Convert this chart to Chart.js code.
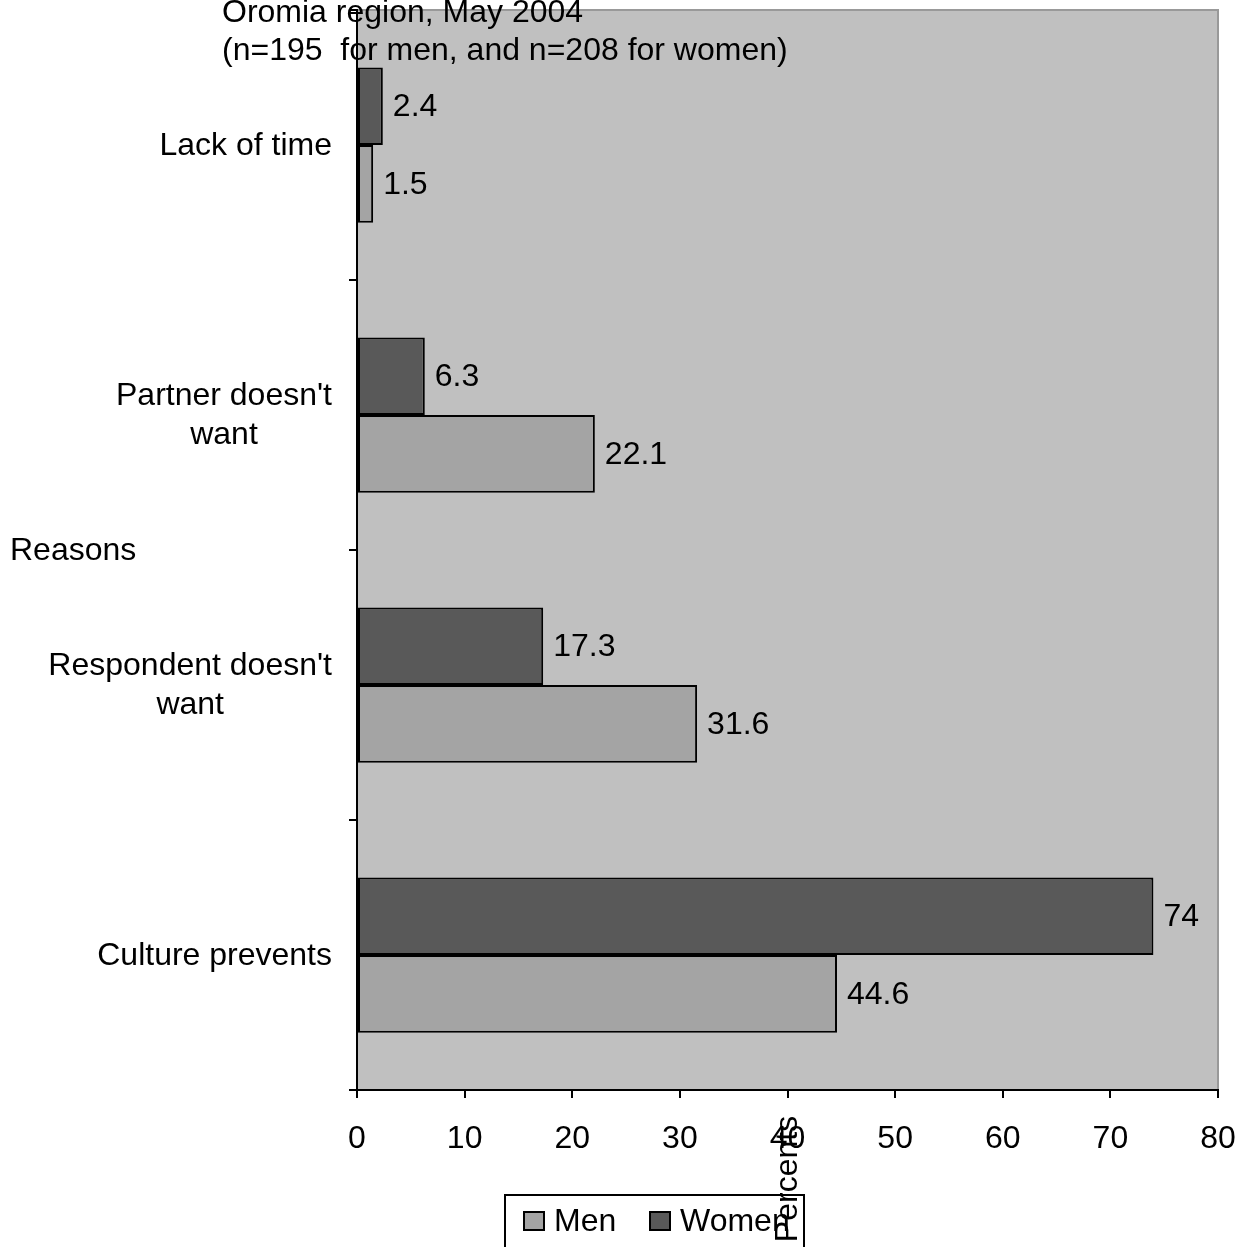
<!DOCTYPE html>
<html>
<head>
<meta charset="utf-8">
<script src="https://cdn.jsdelivr.net/npm/chart.js@4/dist/chart.umd.min.js"></script>
<style>
  html, body { margin: 0; padding: 0; background: #fff; }
  canvas { display: block; }
</style>
</head>
<body>
<canvas id="canvas" width="1254" height="1247"></canvas>
<script>
const reasons = [
  ["Lack of time"],
  ["Partner doesn't", "want"],
  ["Respondent doesn't", "want"],
  ["Culture prevents"],
];
const women = [2.4, 6.3, 17.3, 74];
const men = [1.5, 22.1, 31.6, 44.6];
const xTicks = [0, 10, 20, 30, 40, 50, 60, 70, 80];
const titleLines = ["Oromia region, May 2004", "(n=195  for men, and n=208 for women)"];

const FONT = "'Liberation Sans', Arial, sans-serif";
const SIZE = 32;

// background of plot area, labels, titles, legend
const decorPlugin = {
  id: "decor",
  beforeDraw(chart) {
    const { ctx, chartArea: a } = chart;
    ctx.save();
    ctx.fillStyle = "#c0c0c0";
    ctx.fillRect(a.left, a.top, a.right - a.left, a.bottom - a.top);
    ctx.strokeStyle = "#999999";
    ctx.lineWidth = 2;
    ctx.beginPath();
    ctx.moveTo(a.left, a.top);
    ctx.lineTo(a.right, a.top);
    ctx.lineTo(a.right, a.bottom);
    ctx.stroke();
    ctx.restore();
  },
  afterDraw(chart) {
    const { ctx, chartArea: a } = chart;
    const yScale = chart.scales.y;
    ctx.save();
    ctx.font = `${SIZE}px ${FONT}`;
    ctx.fillStyle = "#000";
    ctx.textBaseline = "middle";

    // category labels: block right aligned, lines centred on each other
    const lh = 39;
    reasons.forEach((lines, i) => {
      const cy = yScale.getPixelForValue(i) + 1;
      const w = Math.max(...lines.map((l) => ctx.measureText(l).width));
      const right = a.left - 25;
      const cx = right - w / 2;
      ctx.textAlign = "center";
      lines.forEach((l, j) => {
        ctx.fillText(l, cx, cy + (j - (lines.length - 1) / 2) * lh);
      });
    });

    // value labels
    ctx.textAlign = "left";
    chart.data.datasets.forEach((ds, di) => {
      const meta = chart.getDatasetMeta(di);
      meta.data.forEach((bar, i) => {
        ctx.fillText(String(ds.data[i]), bar.x + 10, bar.y + 1);
      });
    });

    // title
    titleLines.forEach((t, i) => ctx.fillText(t, 222, 13 + i * 38));

    // axis titles
    ctx.fillText("Reasons", 10, yScale.getPixelForValue(1.5) + 1);

    // legend
    ctx.fillStyle = "#fff";
    ctx.fillRect(505, 1195, 299, 60);
    ctx.strokeStyle = "#000";
    ctx.lineWidth = 2;
    ctx.strokeRect(505, 1195, 299, 60);
    const items = [...chart.data.datasets].reverse();
    const pos = [524, 650];
    items.forEach((ds, i) => {
      ctx.fillStyle = ds.backgroundColor;
      ctx.fillRect(pos[i], 1212, 20, 18);
      ctx.strokeRect(pos[i], 1212, 20, 18);
      ctx.fillStyle = "#000";
      ctx.textAlign = "left";
      ctx.fillText(ds.label, pos[i] + 30, 1222);
    });

    // "Percents" sits over the legend, as in the original
    ctx.save();
    ctx.translate(788, 1179);
    ctx.rotate(-Math.PI / 2);
    ctx.textAlign = "center";
    ctx.fillText("Percents", 0, 0);
    ctx.restore();
    ctx.restore();
  },
};

const chart = new Chart(document.getElementById("canvas").getContext("2d"), {
  type: "bar",
  data: {
    labels: reasons,
    datasets: [
      {
        label: "Women",
        data: women,
        backgroundColor: "#595959",
        borderColor: "#000",
        borderWidth: 2,
        borderSkipped: false,
      },
      {
        label: "Men",
        data: men,
        backgroundColor: "#a4a4a4",
        borderColor: "#000",
        borderWidth: 2,
        borderSkipped: false,
      },
    ],
  },
  options: {
    indexAxis: "y",
    responsive: false,
    animation: false,
    devicePixelRatio: 1,
    layout: { padding: { top: 10, right: 0, left: 0, bottom: 0 } },
    datasets: { bar: { categoryPercentage: 0.575, barPercentage: 1 } },
    plugins: { legend: { display: false }, tooltip: { enabled: false } },
    scales: {
      x: {
        min: 0,
        max: 80,
        afterBuildTicks: (s) => { s.ticks = xTicks.map((v) => ({ value: v })); },
        afterFit: (s) => { s.height = 157; s.paddingRight = 36; s.paddingLeft = 0; },
        grid: { drawOnChartArea: false, tickLength: 8, color: "#000", lineWidth: 2 },
        border: { color: "#000", width: 2 },
        ticks: { color: "#000", font: { family: FONT, size: SIZE }, padding: 22, maxRotation: 0 },
      },
      y: {
        afterFit: (s) => { s.width = 357; },
        grid: { drawOnChartArea: false, tickLength: 8, color: "#000", lineWidth: 2, offset: true },
        border: { color: "#000", width: 2 },
        ticks: { display: false },
      },
    },
  },
  plugins: [decorPlugin],
});
</script>
</body>
</html>
